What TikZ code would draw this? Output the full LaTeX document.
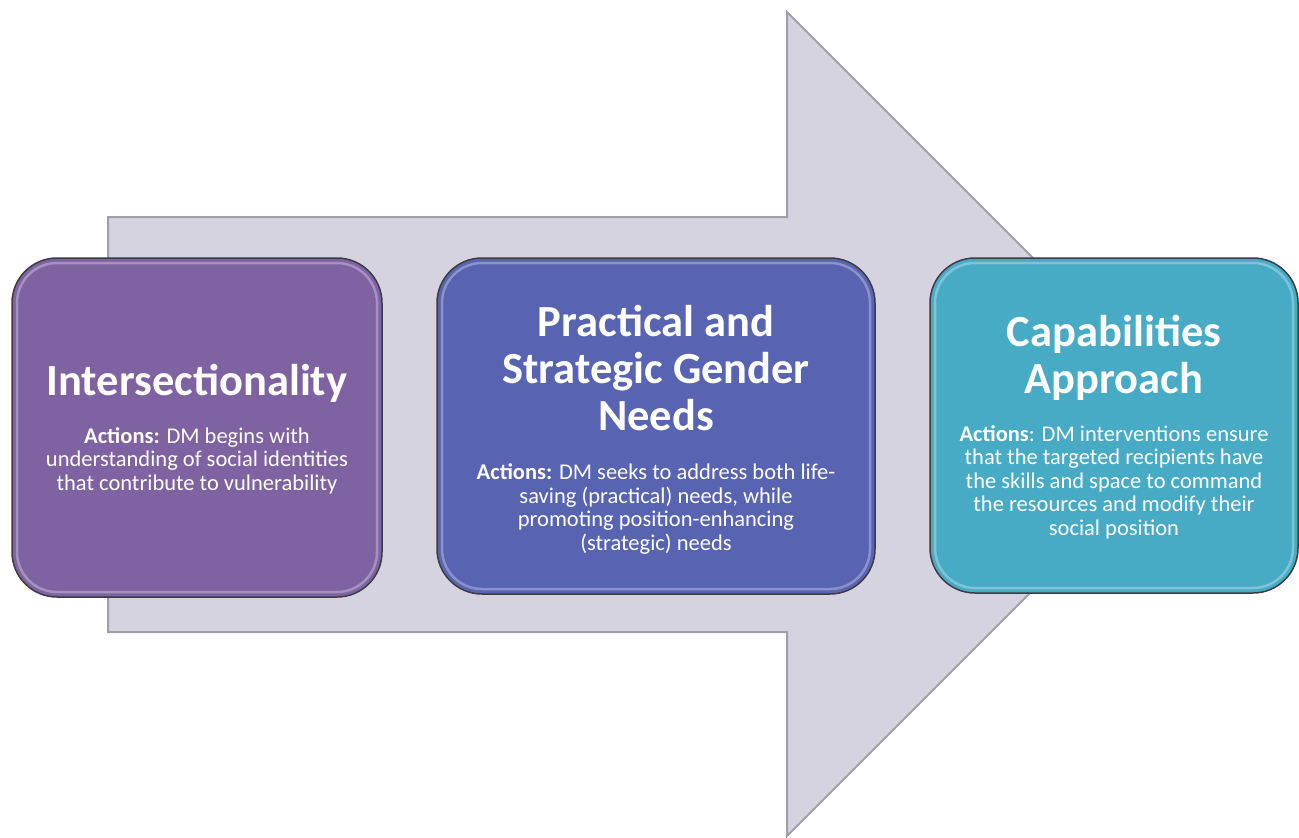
\documentclass[tikz,border=0pt]{standalone}
\usepackage{fontspec}
\setmainfont{Carlito}
\definecolor{arrowfill}{HTML}{D6D3E1}
\definecolor{arrowline}{HTML}{A09EA8}
\definecolor{boxA}{HTML}{7F62A1}
\definecolor{boxB}{HTML}{5864B2}
\definecolor{boxC}{HTML}{48ABC5}
\definecolor{boxedge}{HTML}{3C3C44}
\begin{document}
\begin{tikzpicture}[x=1pt,y=-1pt,
  arrowshape/.style={fill=arrowfill, draw=arrowline, line width=2pt, line join=miter},
  box/.style={draw=boxedge, line width=1.5pt, rounded corners=45pt, inner sep=0pt, outer sep=0pt},
  gloss/.style={draw=white, draw opacity=0.3, line width=2.5pt, rounded corners=40pt},
  titletext/.style={text=white, font=\fontsize{44.5}{47}\selectfont\bfseries, align=center, inner sep=0pt},
  bodytext/.style={text=white, font=\fontsize{22.5}{23.5}\selectfont, align=center, inner sep=0pt}]
\useasboundingbox (0,0) rectangle (1299,838);
% big background arrow
\draw[arrowshape] (108,217) -- (787,217) -- (787,12) -- (1199,424) -- (787,836) -- (787,632) -- (108,632) -- cycle;
% boxes
\node[box, fill=boxA, minimum width=370pt, minimum height=339pt] (b1) at (197,427.5) {};
\node[box, fill=boxB, minimum width=438pt, minimum height=336pt] (b2) at (656,426) {};
\node[box, fill=boxC, minimum width=368pt, minimum height=335pt] (b3) at (1114,425.5) {};
\foreach \b in {b1,b2,b3}{
  \draw[gloss] ([shift={(5pt,-5pt)}]\b.north west) rectangle ([shift={(-5pt,5pt)}]\b.south east);
}
% texts (anchor=base is the baseline of the last line)
\node[titletext, anchor=base] (t1) at (197,395) {Intersectionality};
\node[bodytext, anchor=base] (d1) at (197,490) {\textbf{Actions:} DM begins with\\understanding of social identities\\that contribute to vulnerability};
\node[titletext, anchor=base] (t2) at (656,430) {Practical and\\Strategic Gender\\Needs};
\node[bodytext, anchor=base] (d2) at (656,550) {\textbf{Actions:} DM seeks to address both life-\\saving (practical) needs, while\\promoting position-enhancing\\(strategic) needs};
\node[titletext, anchor=base] (t3) at (1114,393) {Capabilities\\Approach};
\node[bodytext, anchor=base] (d3) at (1114,535) {\textbf{Actions}: DM interventions ensure\\that the targeted recipients have\\the skills and space to command\\the resources and modify their\\social position};
\end{tikzpicture}
\end{document}
